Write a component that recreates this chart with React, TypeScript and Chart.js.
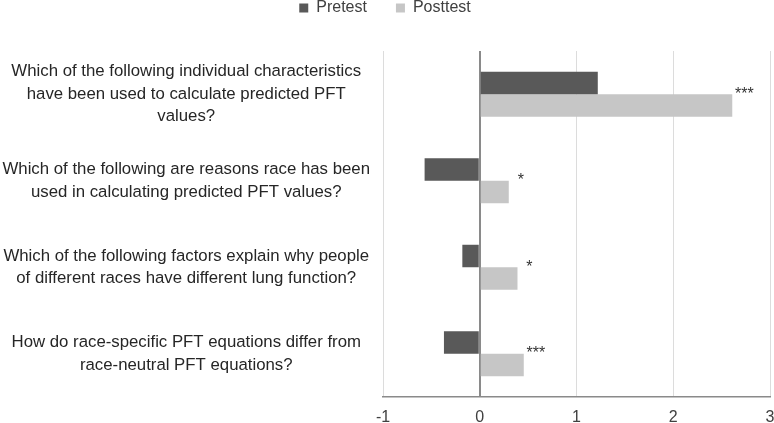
import React, { useEffect, useRef } from 'react';
import { Chart, registerables } from 'chart.js';

Chart.register(...registerables);

// Survey questions (multi-line axis labels)
const questions: string[][] = [
  ['Which of the following individual characteristics', 'have been used to calculate predicted PFT', 'values?'],
  ['Which of the following are reasons race has been', 'used in calculating predicted PFT values?'],
  ['Which of the following factors explain why people', 'of different races have different lung function?'],
  ['How do race-specific PFT equations differ from', 'race-neutral PFT equations?'],
];

const pretest = [1.22, -0.57, -0.18, -0.37];
const posttest = [2.61, 0.3, 0.39, 0.455];
const significance = ['***', '*', '*', '***'];
const xTicks = [-1, 0, 1, 2, 3];

const FONT = '"Liberation Sans", Arial, sans-serif';

// Asterisks drawn just past the end of each posttest bar
const starsPlugin = {
  id: 'significanceStars',
  afterDatasetsDraw(chart: any) {
    const meta = chart.getDatasetMeta(1);
    const ctx = chart.ctx;
    ctx.save();
    ctx.font = `16px ${FONT}`;
    ctx.fillStyle = '#333333';
    ctx.textAlign = 'center';
    ctx.textBaseline = 'middle';
    meta.data.forEach((bar: any, i: number) => {
      const { x, y, height } = bar.getProps(['x', 'y', 'height'], true);
      ctx.fillText(significance[i], x + 12, y - height / 2);
    });
    ctx.restore();
  },
};

// Extra space between the legend and the plot
const legendGapPlugin = {
  id: 'legendGap',
  beforeInit(chart: any) {
    const legend = chart.legend;
    if (!legend) return;
    const originalFit = legend.fit;
    legend.fit = function fit() {
      originalFit.call(this);
      this.height += 25;
    };
  },
};

export default function App() {
  const canvasRef = useRef<HTMLCanvasElement | null>(null);

  useEffect(() => {
    if (!canvasRef.current) return;
    const chart = new Chart(canvasRef.current, {
      type: 'bar',
      data: {
        labels: questions,
        datasets: [
          {
            label: 'Pretest',
            data: pretest,
            backgroundColor: '#595959',
            borderWidth: 0,
          },
          {
            label: 'Posttest',
            data: posttest,
            backgroundColor: '#c6c6c6',
            borderWidth: 0,
          },
        ],
      },
      options: {
        indexAxis: 'y',
        animation: false,
        responsive: true,
        maintainAspectRatio: false,
        datasets: {
          bar: {
            categoryPercentage: 0.52,
            barPercentage: 1,
          },
        },
        layout: {
          padding: { top: -29, right: 4, left: 0, bottom: 0 },
        },
        plugins: {
          legend: {
            position: 'top',
            align: 'center',
            labels: {
              boxWidth: 9,
              boxHeight: 9,
              padding: 29,
              color: '#404040',
              font: { family: FONT, size: 16 },
            },
          },
          tooltip: { enabled: false },
        },
        scales: {
          x: {
            type: 'linear',
            min: -1,
            max: 3,
            afterBuildTicks: (scale: any) => {
              scale.ticks = xTicks.map((v) => ({ value: v }));
            },
            afterFit: (scale: any) => {
              scale.height = 26;
              scale.paddingLeft = 0;
              scale.paddingRight = 0;
            },
            grid: {
              drawTicks: false,
              color: (c: any) => (c.tick && c.tick.value === 0 ? '#8a8a8a' : '#dcdcdc'),
              lineWidth: (c: any) => (c.tick && c.tick.value === 0 ? 2 : 1),
            },
            border: { display: true, color: '#8a8a8a', width: 1.5 },
            ticks: {
              padding: 11,
              color: '#404040',
              font: { family: FONT, size: 16 },
            },
          },
          y: {
            type: 'category',
            afterFit: (scale: any) => {
              scale.width = 383;
              scale.paddingTop = 0;
              scale.paddingBottom = 0;
            },
            grid: { display: false, drawTicks: false },
            border: { display: false },
            ticks: {
              crossAlign: 'center',
              padding: 13,
              color: '#262626',
              font: { family: FONT, size: 16.8, lineHeight: 1.34 },
            },
          },
        },
      },
      plugins: [starsPlugin, legendGapPlugin],
    } as any);
    return () => chart.destroy();
  }, []);

  return (
    <div style={{ position: 'fixed', left: 0, top: 0, width: 774, height: 423, background: '#ffffff' }}>
      <canvas ref={canvasRef} />
    </div>
  );
}
